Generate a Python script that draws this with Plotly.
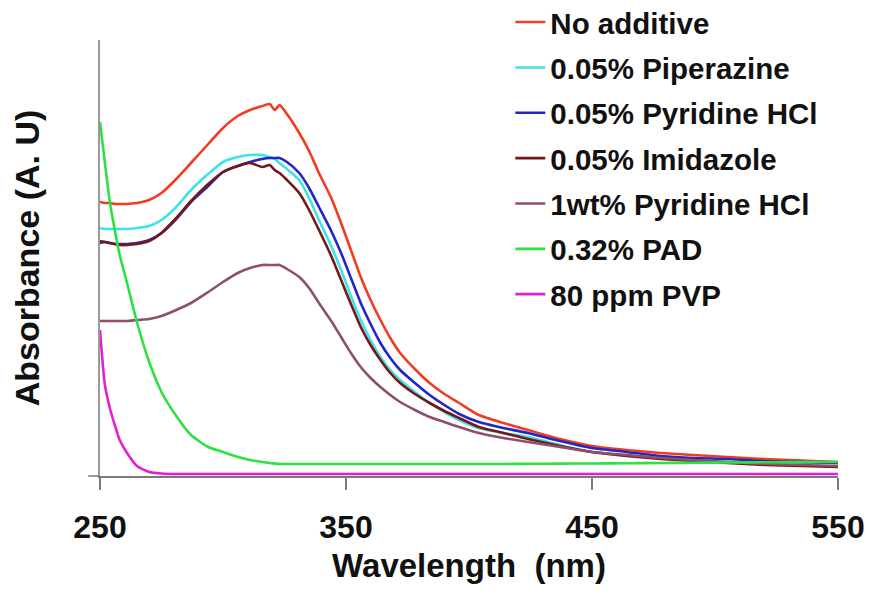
import plotly.graph_objects as go

# Wavelength grid (nm)
wavelength = [250, 252, 254, 256, 258, 261, 265, 270, 275, 281, 287, 294, 300, 306, 311,
              316, 319, 321, 323, 326, 331, 335, 339, 344, 348, 352, 356, 360, 364, 368,
              372, 378, 384, 390, 396, 404, 414, 424, 437, 450, 464, 478, 491, 505, 520,
              535, 550]

no_additive = [2.74, 2.73, 2.73, 2.72, 2.72, 2.72, 2.73, 2.76, 2.83, 2.97, 3.13, 3.32, 3.48, 3.60, 3.66,
               3.70, 3.72, 3.66, 3.71, 3.62, 3.43, 3.25, 3.03, 2.78, 2.53, 2.26, 1.99, 1.76, 1.56, 1.38,
               1.23, 1.07, 0.93, 0.82, 0.73, 0.61, 0.53, 0.46, 0.37, 0.30, 0.26, 0.23, 0.21, 0.19, 0.17,
               0.155, 0.14]

piperazine = [2.48, 2.47, 2.47, 2.47, 2.47, 2.47, 2.48, 2.50, 2.56, 2.69, 2.86, 3.02, 3.14, 3.19, 3.21,
              3.21, 3.19, 3.17, 3.13, 3.07, 2.96, 2.78, 2.56, 2.30, 2.06, 1.80, 1.56, 1.36, 1.19, 1.06,
              0.96, 0.84, 0.73, 0.64, 0.56, 0.48, 0.43, 0.39, 0.31, 0.24, 0.21, 0.18, 0.16, 0.14, 0.135,
              0.13, 0.13]

pyridine_005 = [2.35, 2.34, 2.33, 2.32, 2.32, 2.32, 2.33, 2.36, 2.43, 2.57, 2.74, 2.90, 3.04, 3.10, 3.14,
                3.17, 3.18, 3.18, 3.18, 3.14, 3.03, 2.88, 2.69, 2.45, 2.23, 1.98, 1.73, 1.52, 1.33, 1.18,
                1.06, 0.93, 0.81, 0.71, 0.62, 0.54, 0.48, 0.43, 0.35, 0.28, 0.24, 0.20, 0.18, 0.17, 0.15,
                0.14, 0.13]

imidazole = [2.33, 2.34, 2.33, 2.32, 2.31, 2.31, 2.32, 2.35, 2.43, 2.58, 2.75, 2.92, 3.04, 3.10, 3.13,
             3.09, 3.11, 3.06, 3.03, 2.96, 2.83, 2.66, 2.46, 2.20, 1.96, 1.72, 1.49, 1.31, 1.16, 1.03,
             0.93, 0.82, 0.73, 0.65, 0.58, 0.49, 0.43, 0.37, 0.30, 0.24, 0.20, 0.17, 0.15, 0.13, 0.11,
             0.10, 0.09]

pyridine_1wt = [1.55, 1.55, 1.55, 1.55, 1.55, 1.55, 1.56, 1.57, 1.60, 1.66, 1.73, 1.84, 1.94, 2.03, 2.08,
                2.11, 2.11, 2.11, 2.11, 2.07, 1.99, 1.88, 1.73, 1.55, 1.39, 1.23, 1.09, 0.98, 0.89, 0.81,
                0.74, 0.66, 0.59, 0.54, 0.49, 0.43, 0.38, 0.34, 0.29, 0.24, 0.21, 0.18, 0.16, 0.14, 0.12,
                0.11, 0.10]

pad = [3.54, 3.13, 2.74, 2.46, 2.21, 1.93, 1.54, 1.14, 0.84, 0.60, 0.41, 0.29, 0.24, 0.19, 0.16,
       0.14, 0.13, 0.125, 0.12, 0.12, 0.12, 0.12, 0.12, 0.12, 0.12, 0.12, 0.12, 0.12, 0.12, 0.12,
       0.12, 0.12, 0.12, 0.12, 0.12, 0.12, 0.12, 0.122, 0.124, 0.125, 0.127, 0.13, 0.132, 0.135, 0.137,
       0.14, 0.14]

pvp = [1.46, 0.91, 0.68, 0.51, 0.36, 0.23, 0.10, 0.04, 0.025, 0.02, 0.02, 0.02, 0.02, 0.02, 0.02,
       0.02, 0.02, 0.02, 0.02, 0.02, 0.02, 0.02, 0.02, 0.02, 0.02, 0.02, 0.02, 0.02, 0.02, 0.02,
       0.02, 0.02, 0.02, 0.02, 0.02, 0.02, 0.02, 0.02, 0.02, 0.02, 0.02, 0.02, 0.02, 0.02, 0.02,
       0.02, 0.02]

series_names = ["No additive", "0.05% Piperazine", "0.05% Pyridine HCl", "0.05% Imidazole",
                "1wt% Pyridine HCl", "0.32% PAD", "80 ppm PVP"]
series_values = [no_additive, piperazine, pyridine_005, imidazole, pyridine_1wt, pad, pvp]
series_colors = ["#f23c22", "#3fe3e6", "#2424c8", "#741818", "#8f4f69", "#2fe043", "#e41fd2"]

x_ticks = [250, 350, 450, 550]

FONT = "Liberation Sans, Arial, Helvetica, sans-serif"

fig = go.Figure()
for name, vals, col in zip(series_names, series_values, series_colors):
    fig.add_trace(go.Scatter(
        x=wavelength, y=vals, mode="lines", name=name,
        line=dict(color=col, width=2.6, shape="spline", smoothing=0.6),
        legendgroup=name,
    ))

fig.update_layout(
    width=864, height=592, autosize=False,
    margin=dict(l=92, r=34, t=32, b=124, autoexpand=False),
    paper_bgcolor="white", plot_bgcolor="white",
    font=dict(family=FONT, color="#111111"),
    showlegend=True,
    legend=dict(
        xref="paper", yref="paper",
        x=0.556, y=1.10, xanchor="left", yanchor="top",
        font=dict(family=FONT, size=29.5, color="#111111", weight="bold"),
        bgcolor="rgba(0,0,0,0)", borderwidth=0,
        tracegroupgap=4, itemwidth=30, maxheight=1.0,
    ),
    xaxis=dict(
        range=[250, 550], tickvals=x_ticks, ticktext=[str(t) for t in x_ticks],
        showline=True, linecolor="#7a7a7a", linewidth=1.5,
        ticks="outside", ticklen=12, tickwidth=1.5, tickcolor="#7a7a7a",
        showgrid=False, zeroline=False, automargin=False,
        tickfont=dict(family=FONT, size=32, color="#111111", weight="bold"),
        ticklabelstandoff=10,
        title=dict(text="Wavelength&nbsp; (nm)", standoff=10,
                   font=dict(family=FONT, size=33, color="#111111", weight="bold")),
    ),
    yaxis=dict(
        range=[0, 4.36], showline=True, linecolor="#9a9a9a", linewidth=2,
        ticks="", showticklabels=False, showgrid=False, zeroline=False, automargin=False,
        title=dict(text="Absorbance (A. U)", standoff=56,
                   font=dict(family=FONT, size=34, color="#111111", weight="bold")),
    ),
    shapes=[dict(type="line", xref="paper", yref="paper", x0=-0.016, x1=0, y0=0, y1=0,
                 line=dict(color="#7a7a7a", width=1.5))],
)

fig.write_html("out.html")
